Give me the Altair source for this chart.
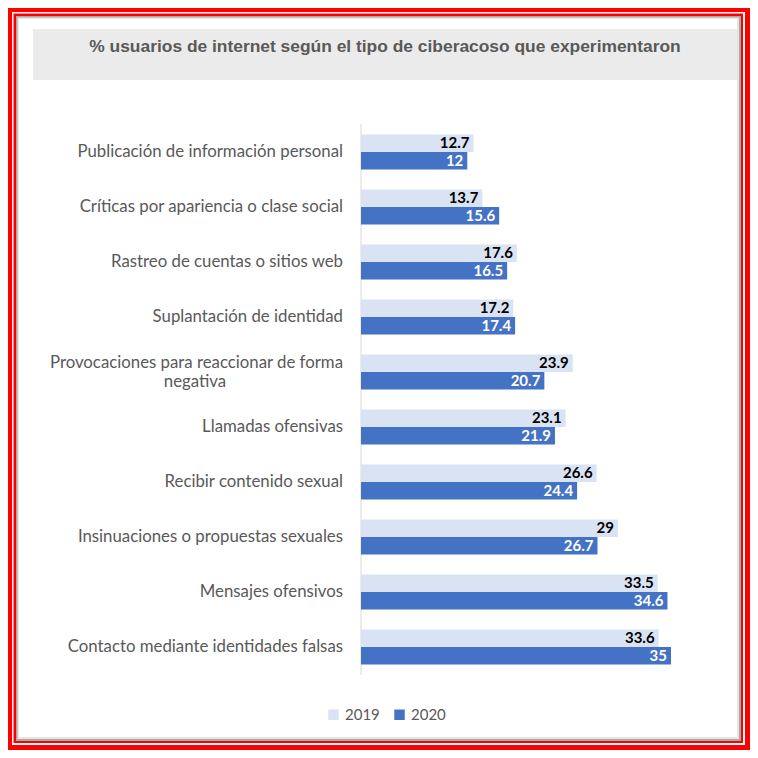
import altair as alt
import pandas as pd

CATEGORIES = [
    "Publicación de información personal",
    "Críticas por apariencia o clase social",
    "Rastreo de cuentas o sitios web",
    "Suplantación de identidad",
    "Provocaciones para reaccionar de forma negativa",
    "Llamadas ofensivas",
    "Recibir contenido sexual",
    "Insinuaciones o propuestas sexuales",
    "Mensajes ofensivos",
    "Contacto mediante identidades falsas",
]
LABEL_LINES = [
    ["Publicación de información personal"],
    ["Críticas por apariencia o clase social"],
    ["Rastreo de cuentas o sitios web"],
    ["Suplantación de identidad"],
    ["Provocaciones para reaccionar de forma", "negativa"],
    ["Llamadas ofensivas"],
    ["Recibir contenido sexual"],
    ["Insinuaciones o propuestas sexuales"],
    ["Mensajes ofensivos"],
    ["Contacto mediante identidades falsas"],
]
VALUES_2019 = [12.7, 13.7, 17.6, 17.2, 23.9, 23.1, 26.6, 29, 33.5, 33.6]
VALUES_2020 = [12, 15.6, 16.5, 17.4, 20.7, 21.9, 24.4, 26.7, 34.6, 35]
YEARS = ["2019", "2020"]
COLORS = ["#dae3f3", "#4472c4"]
TITLE = "% usuarios de internet según el tipo de ciberacoso que experimentaron"

rows = []
for c, a, b in zip(CATEGORIES, VALUES_2019, VALUES_2020):
    rows.append({"cat": c, "year": "2019", "value": a, "label": f"{a:g}"})
    rows.append({"cat": c, "year": "2020", "value": b, "label": f"{b:g}"})
df = pd.DataFrame(rows)

lab_rows = []
for c, lines in zip(CATEGORIES, LABEL_LINES):
    n = len(lines)
    for i, ln in enumerate(lines):
        lab_rows.append({"cat": c, "line": ln, "n": n, "i": i})
labdf = pd.DataFrame(lab_rows)

W, H = 742, 742
xscale = alt.Scale(domain=[0, 35], range=[353, 663], nice=False, zero=True)
yscale = alt.Scale(domain=CATEGORIES, range=[116.5, 666.5], paddingInner=0, paddingOuter=0)
cscale = alt.Scale(domain=YEARS, range=COLORS)

LABEL_FONT = "Lato"
LABEL_SIZE = 16.8
GRAY = "#595959"
BAR_H = 17.5
HALF = BAR_H / 2

one = pd.DataFrame({"a": [0]})


def rect(x, x2, y, y2, color):
    return alt.Chart(one).mark_rect(color=color).encode(
        x=alt.value(x), x2=alt.value(x2), y=alt.value(y), y2=alt.value(y2))


frame = [
    rect(0, W, 0, H, "#ff0000"),
    rect(4, W - 5, 4, H - 5, "#ffffff"),
    rect(5.5, W - 7, 5.5, H - 7, "#ff0000"),
    rect(8, W - 9, 8, H - 9, "#a9a9a9"),
    rect(9.5, W - 11, 9.5, H - 11, "#e6e6e6"),
    rect(11, W - 13, 11, H - 13, "#ffffff"),
    rect(25, 729, 21, 72, "#ebebeb"),
]

title = alt.Chart(one).mark_text(
    text=TITLE, font="Liberation Sans", fontWeight="bold", fontSize=17.4,
    color=GRAY, align="center", baseline="middle"
).encode(x=alt.value(377), y=alt.value(39))

rule_df = pd.DataFrame({"v": [0]})
axis_rule = alt.Chart(rule_df).mark_rule(color="#d9d9d9", strokeWidth=1).encode(
    x=alt.X("v:Q", scale=xscale, axis=None), y=alt.value(116), y2=alt.value(667))

legend = alt.Legend(orient="none", legendX=318, legendY=699,
                    direction="horizontal", title=None,
                    symbolType="square", symbolSize=110,
                    symbolStrokeWidth=0, labelFontSize=15,
                    labelFont=LABEL_FONT, labelColor=GRAY,
                    columnPadding=12, labelOffset=4)


def year_layers(year, offset, text_color):
    base = alt.Chart(df).transform_filter(alt.datum.year == year)
    bar = base.mark_bar(height=BAR_H, yOffset=offset).encode(
        x=alt.X("value:Q", scale=xscale, axis=None),
        y=alt.Y("cat:N", scale=yscale, axis=None),
        color=alt.Color("year:N", scale=cscale, legend=legend),
    )
    txt = base.mark_text(
        align="right", baseline="middle", dx=-4, yOffset=offset,
        fontWeight="bold", fontSize=15, font=LABEL_FONT, color=text_color
    ).encode(
        x=alt.X("value:Q", scale=xscale, axis=None),
        y=alt.Y("cat:N", scale=yscale, axis=None),
        text="label:N",
    )
    return [bar, txt]


layers_2019 = year_layers("2019", -HALF, "#000000")
layers_2020 = year_layers("2020", HALF, "#ffffff")

single = alt.Chart(labdf).transform_filter("datum.n == 1").mark_text(
    align="right", baseline="middle", fontSize=LABEL_SIZE, font=LABEL_FONT, color=GRAY
).encode(x=alt.value(335), y=alt.Y("cat:N", scale=yscale, axis=None), text="line:N")

first = alt.Chart(labdf).transform_filter("datum.n == 2 && datum.i == 0").mark_text(
    align="right", baseline="middle", fontSize=LABEL_SIZE, font=LABEL_FONT, color=GRAY, dy=-9.5
).encode(x=alt.value(335), y=alt.Y("cat:N", scale=yscale, axis=None), text="line:N")

second = alt.Chart(labdf).transform_filter("datum.n == 2 && datum.i == 1").mark_text(
    align="center", baseline="middle", fontSize=LABEL_SIZE, font=LABEL_FONT, color=GRAY, dy=9.5
).encode(x=alt.value(187), y=alt.Y("cat:N", scale=yscale, axis=None), text="line:N")

chart = alt.layer(
    *frame, title, axis_rule, *layers_2019, *layers_2020, single, first, second
).properties(
    width=W, height=H, autosize=alt.AutoSizeParams(type="none"), padding=0
).configure_view(strokeWidth=0)

chart.save("out.html", embed_options={"renderer": "svg", "actions": False})
